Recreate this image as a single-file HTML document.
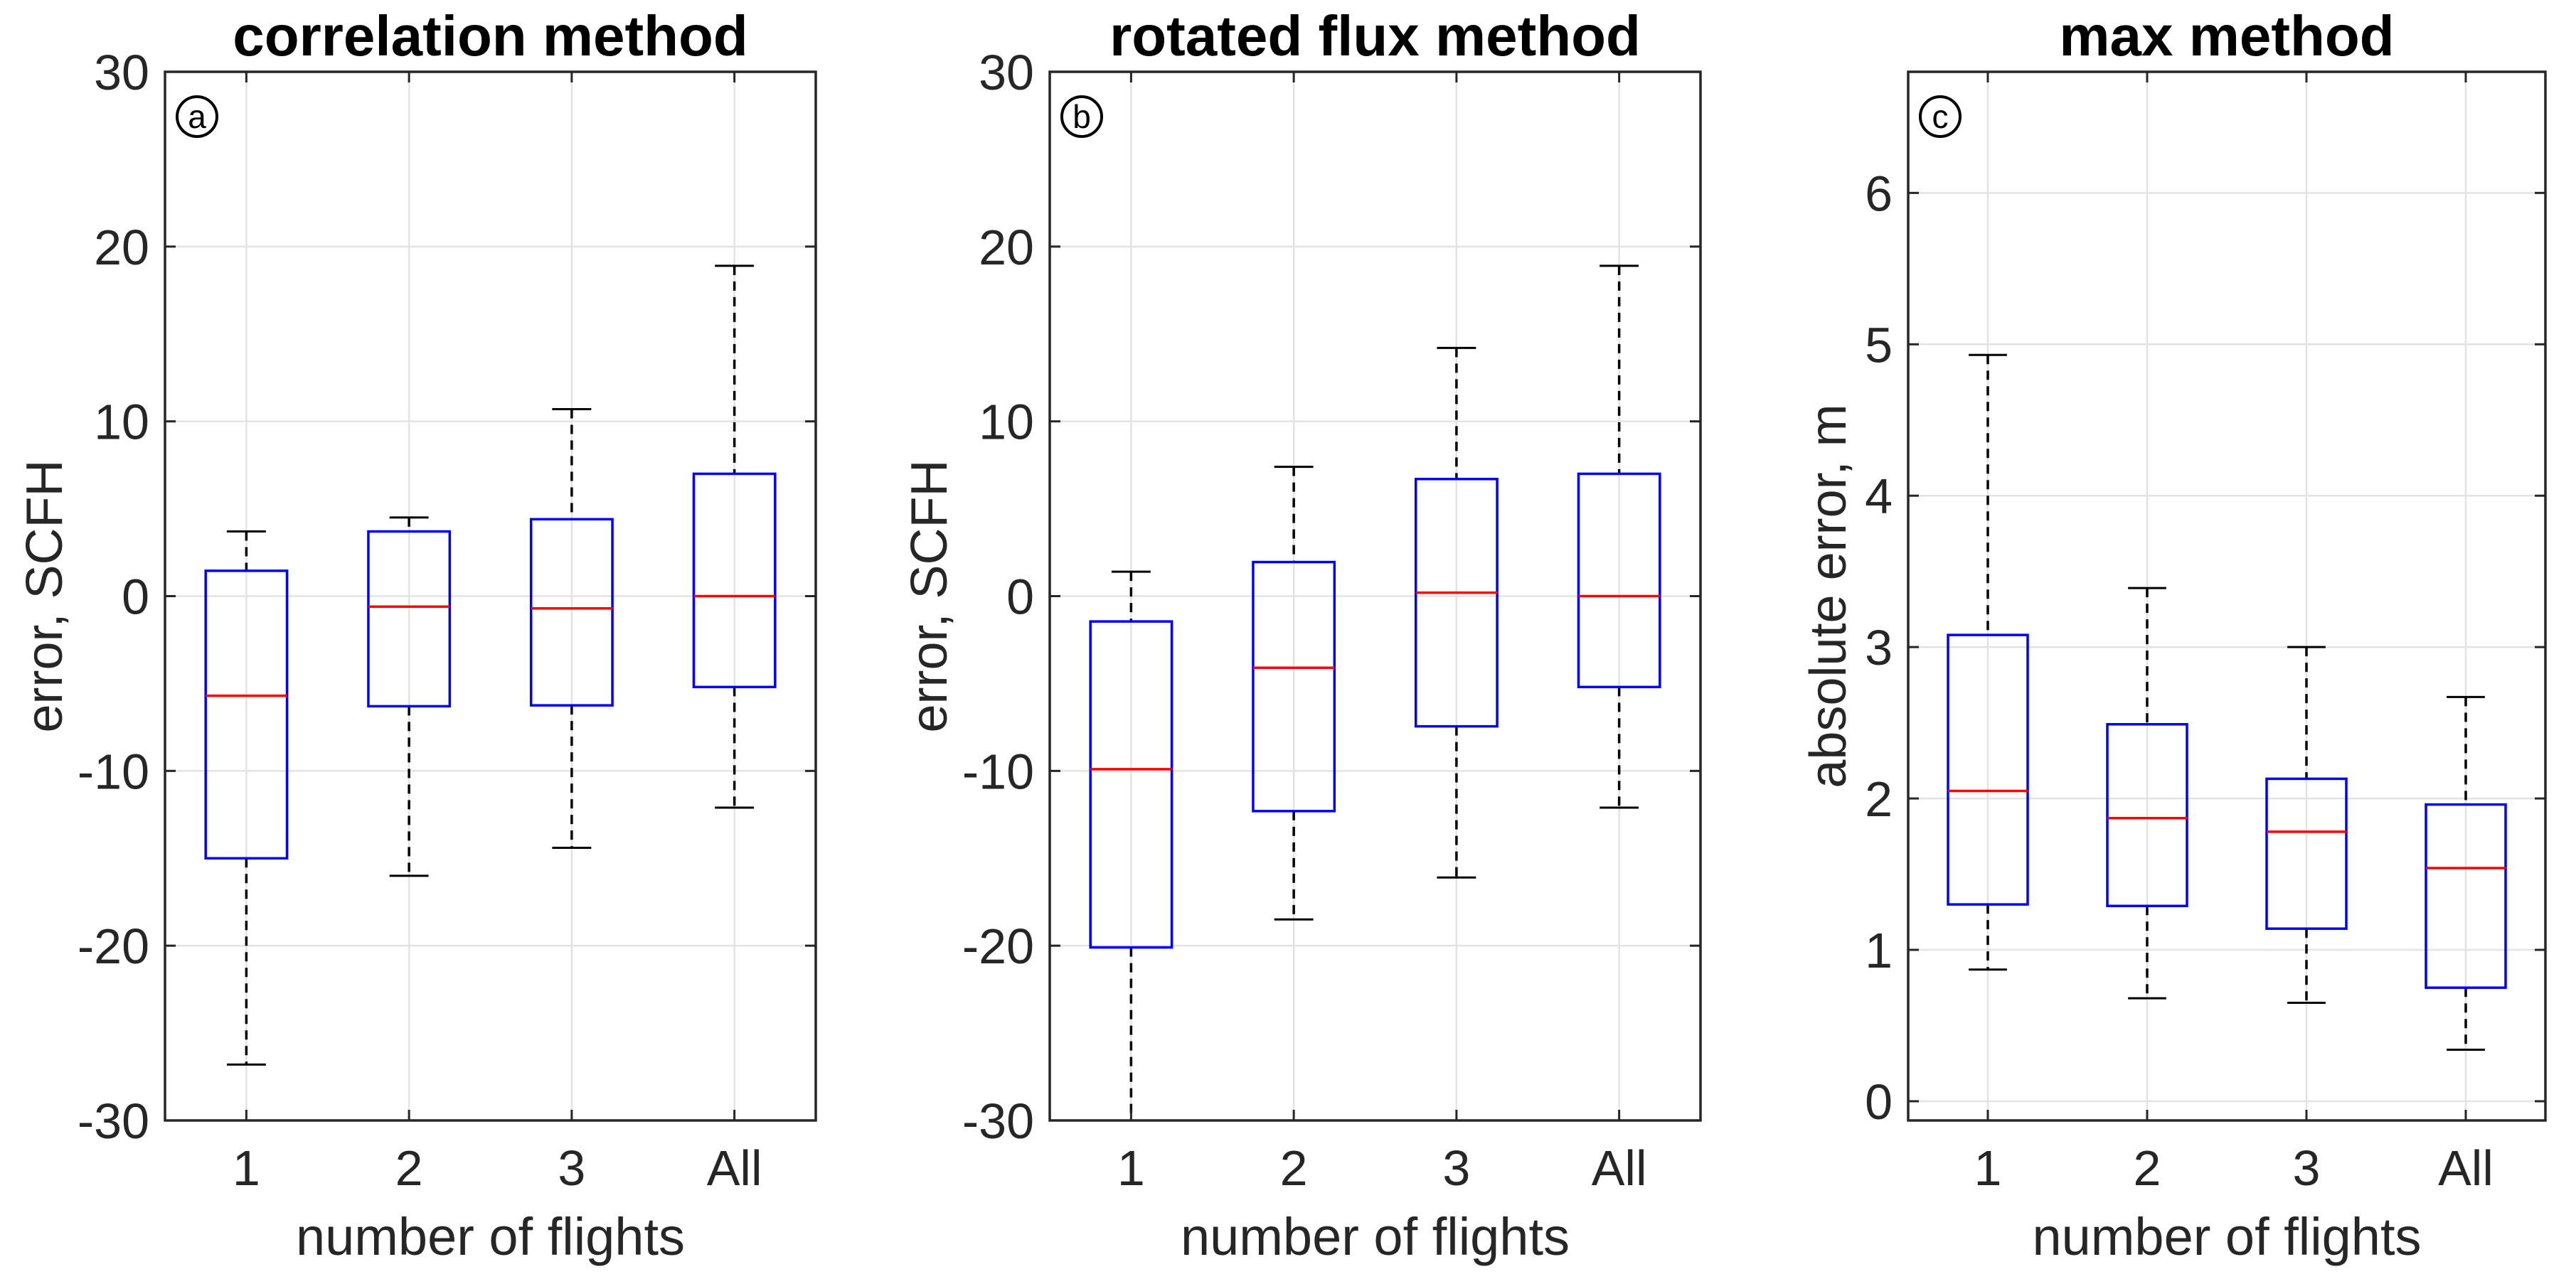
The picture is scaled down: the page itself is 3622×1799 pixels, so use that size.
<!DOCTYPE html>
<html><head><meta charset="utf-8"><style>
html,body{margin:0;padding:0;background:#fff;}
svg{display:block;font-family:"Liberation Sans",sans-serif;}
</style></head><body>
<svg id="fig" width="3622" height="1799" viewBox="0 0 3622 1799"></svg>
<script>
const categories = ["1","2","3","All"];
// panel a: correlation method
const corrHigh = [3.7, 4.5, 10.7, 18.9];
const corrQ3 = [1.45, 3.7, 4.4, 7.0];
const corrMed = [-5.7, -0.6, -0.7, 0.0];
const corrQ1 = [-15.0, -6.3, -6.25, -5.2];
const corrLow = [-26.8, -16.0, -14.4, -12.1];
// panel b: rotated flux method
const rotHigh = [1.4, 7.4, 14.2, 18.9];
const rotQ3 = [-1.45, 1.95, 6.7, 7.0];
const rotMed = [-9.9, -4.1, 0.2, 0.0];
const rotQ1 = [-20.1, -12.3, -7.45, -5.2];
const rotLow = [-31, -18.5, -16.1, -12.1];
// panel c: max method
const maxHigh = [4.93, 3.39, 3.0, 2.67];
const maxQ3 = [3.08, 2.49, 2.13, 1.96];
const maxMed = [2.05, 1.87, 1.78, 1.54];
const maxQ1 = [1.30, 1.29, 1.14, 0.75];
const maxLow = [0.87, 0.68, 0.65, 0.34];
const ticksErr = [-30,-20,-10,0,10,20,30];
const ticksAbs = [0,1,2,3,4,5,6];

const NS="http://www.w3.org/2000/svg";
const svg=document.getElementById('fig');
function mk(tag,attrs,parent){const e=document.createElementNS(NS,tag);for(const k in attrs)e.setAttribute(k,attrs[k]);(parent||svg).appendChild(e);return e;}

const panels=[
 {id:'a',title:'correlation method',ylabel:'error, SCFH',L:232,R:1147,T:101,B:1576,ymin:-30,ymax:30,ticks:ticksErr,hi:corrHigh,q3:corrQ3,md:corrMed,q1:corrQ1,lo:corrLow,ylx:62},
 {id:'b',title:'rotated flux method',ylabel:'error, SCFH',L:1476,R:2391,T:101,B:1576,ymin:-30,ymax:30,ticks:ticksErr,hi:rotHigh,q3:rotQ3,md:rotMed,q1:rotQ1,lo:rotLow,ylx:1306},
 {id:'c',title:'max method',ylabel:'absolute error, m',L:2683,R:3579,T:101,B:1576,ymin:-0.127,ymax:6.8,ticks:ticksAbs,hi:maxHigh,q3:maxQ3,md:maxMed,q1:maxQ1,lo:maxLow,ylx:2570}
];

panels.forEach(p=>{
 const g=mk('g',{});
 
 
 const clipId='clip'+p.id;
 const cp=mk('clipPath',{id:clipId},g);mk('rect',{x:p.L,y:p.T,width:p.R-p.L,height:p.B-p.T},cp);
 const xs=i=>p.L+(i+1-0.5)/4*(p.R-p.L);
 const ys=v=>p.B-(v-p.ymin)/(p.ymax-p.ymin)*(p.B-p.T);
 p.ticks.forEach(t=>{const y=ys(t);
  const l=mk('line',{x1:p.L,x2:p.R,y1:y,y2:y,stroke:'#e3e3e3','stroke-width':2.5},g);
  });
 categories.forEach((c,i)=>{const x=xs(i);
  const l=mk('line',{x1:x,x2:x,y1:p.T,y2:p.B,stroke:'#e3e3e3','stroke-width':2.5},g);
  });
 const bg=mk('g',{'clip-path':'url(#'+clipId+')'},g);
 const bw=0.5/4*(p.R-p.L)/2, cw=0.24/4*(p.R-p.L)/2;
 categories.forEach((c,i)=>{
  const x=xs(i);
  const grp=mk('g',{},bg);
  
  
  mk('line',{x1:x,x2:x,y1:ys(p.hi[i]),y2:ys(p.q3[i]),stroke:'#000','stroke-width':3.5,'stroke-dasharray':'13,9'},grp);
  mk('line',{x1:x,x2:x,y1:ys(p.q1[i]),y2:ys(p.lo[i]),stroke:'#000','stroke-width':3.5,'stroke-dasharray':'13,9'},grp);
  mk('line',{x1:x-cw,x2:x+cw,y1:ys(p.hi[i]),y2:ys(p.hi[i]),stroke:'#000','stroke-width':3},grp);
  mk('line',{x1:x-cw,x2:x+cw,y1:ys(p.lo[i]),y2:ys(p.lo[i]),stroke:'#000','stroke-width':3},grp);
  mk('rect',{x:x-bw,y:ys(p.q3[i]),width:2*bw,height:ys(p.q1[i])-ys(p.q3[i]),fill:'none',stroke:'#0000ff','stroke-width':3.5},grp);
  mk('line',{x1:x-bw,x2:x+bw,y1:ys(p.md[i]),y2:ys(p.md[i]),stroke:'#ff0000','stroke-width':3.5},grp);
 });
 const fr=mk('rect',{x:p.L,y:p.T,width:p.R-p.L,height:p.B-p.T,fill:'none',stroke:'#262626','stroke-width':3.5},g);
 
 p.ticks.forEach(t=>{const y=ys(t);
  mk('line',{x1:p.L,x2:p.L+15,y1:y,y2:y,stroke:'#262626','stroke-width':3},g);
  mk('line',{x1:p.R,x2:p.R-15,y1:y,y2:y,stroke:'#262626','stroke-width':3},g);
  const tx=mk('text',{x:p.L-22,y:y+25,'text-anchor':'end','font-size':70,fill:'#262626'},g);
  tx.textContent=String(t);
  });
 categories.forEach((c,i)=>{const x=xs(i);
  mk('line',{x1:x,x2:x,y1:p.B,y2:p.B-15,stroke:'#262626','stroke-width':3},g);
  mk('line',{x1:x,x2:x,y1:p.T,y2:p.T+15,stroke:'#262626','stroke-width':3},g);
  const tx=mk('text',{x:x,y:1667,'text-anchor':'middle','font-size':70,fill:'#262626'},g);
  tx.textContent=c;
  });
 const xl=mk('text',{x:(p.L+p.R)/2,y:1765,'text-anchor':'middle','font-size':74,fill:'#262626'},g);
 xl.textContent='number of flights';
 
 const yl=mk('text',{x:0,y:0,'text-anchor':'middle','font-size':72,fill:'#262626',transform:'translate('+(p.ylx+25)+','+((p.T+p.B)/2)+') rotate(-90)'},g);
 yl.textContent=p.ylabel;
 
 const ti=mk('text',{x:(p.L+p.R)/2,y:78,'text-anchor':'middle','font-size':80,'font-weight':'bold',fill:'#000'},g);
 ti.textContent=p.title;
 
 const cg=mk('g',{},g);
 
 mk('circle',{cx:p.L+45,cy:164,r:28,fill:'none',stroke:'#000','stroke-width':4},cg);
 const ct=mk('text',{x:p.L+45,y:180,'text-anchor':'middle','font-size':46,fill:'#000'},cg);
 ct.textContent=p.id;
});
</script>
</body></html>
